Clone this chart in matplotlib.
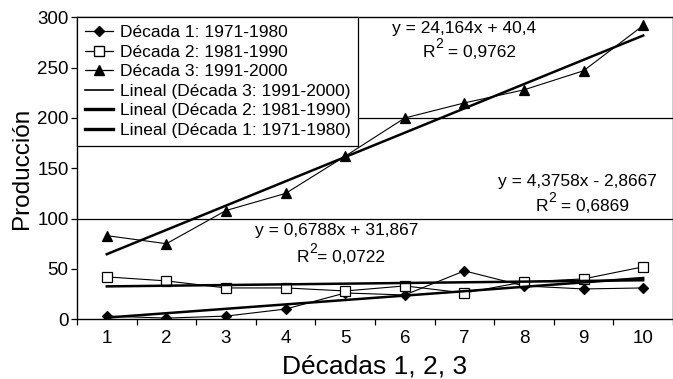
import numpy as np
import matplotlib
matplotlib.use("Agg")
import matplotlib.pyplot as plt
from matplotlib.lines import Line2D
from matplotlib.transforms import offset_copy

plt.rcParams['font.family'] = ['Liberation Sans', 'DejaVu Sans']

# datos
x = np.arange(1, 11)
decada1 = [3, 1, 3, 10, 26, 24, 48, 33, 30, 31]
decada2 = [42, 38, 31, 31, 28, 33, 26, 37, 40, 52]
decada3 = [83, 75, 108, 125, 162, 200, 215, 228, 247, 292]

nombres = ["Década 1: 1971-1980", "Década 2: 1981-1990", "Década 3: 1991-2000"]
# pendiente, ordenada (de las etiquetas de tendencia)
pendientes = [4.3758, 0.6788, 24.164]
ordenadas = [-2.8667, 31.867, 40.4]
ecuaciones = ["y = 4,3758x - 2,8667", "y = 0,6788x + 31,867", "y = 24,164x + 40,4"]
r2 = [" = 0,6869", "= 0,0722", " = 0,9762"]

fig = plt.figure(figsize=(6.73, 3.79), dpi=100)
ax = fig.add_axes([0.1144, 0.158, 0.8856, 0.796])

for yv in [100, 200]:
    ax.axhline(yv, color='black', lw=0.9, zorder=1)

marcadores = ['D', 's', '^']
caras = ['black', 'white', 'black']
tamanos = [5.5, 7.5, 7]
series = [decada1, decada2, decada3]
for ys, m, fc, ms in zip(series, marcadores, caras, tamanos):
    ax.plot(x, ys, color='black', lw=0.8, marker=m, ms=ms, mfc=fc, mec='black',
            mew=0.9, zorder=3)

for a, b in zip(pendientes, ordenadas):
    ax.plot(x, a * x + b, color='black', lw=1.8, zorder=4)

fs = 12.5
renderer = fig.canvas.get_renderer()


def texto_r2(xc, yc, resto):
    # "R" + superíndice "2" + resto, centrado en (xc, yc)
    partes = [("R", fs, 0), ("2", fs * 0.8, 6), (resto, fs, 0)]
    objs = []
    for s, size, dy in partes:
        t = ax.text(xc, yc, s, fontsize=size, ha='left', va='center')
        objs.append((t, dy))
    anchos = [t.get_window_extent(renderer).width for t, _ in objs]
    total = sum(anchos)
    dx = -total / 2
    for (t, dy), w in zip(objs, anchos):
        t.set_transform(offset_copy(ax.transData, fig=fig, x=dx * 72 / fig.dpi,
                                    y=dy, units='points'))
        dx += w


# etiquetas de las tendencias
ax.text(7.0, 289, ecuaciones[2], ha='center', va='center', fontsize=fs)
texto_r2(7.08, 265, r2[2])
ax.text(8.9, 137, ecuaciones[0], ha='center', va='center', fontsize=fs)
texto_r2(8.98, 112, r2[0])
ax.text(4.86, 88, ecuaciones[1], ha='center', va='center', fontsize=fs)
texto_r2(4.93, 61, r2[1])

ax.set_xlim(0.5, 10.5)
ax.set_ylim(0, 300)
ax.set_yticks(np.arange(0, 301, 50))
ax.set_xticks(x)
ax.set_xticks(np.arange(0.5, 10.6, 1), minor=True)
ax.tick_params(axis='x', which='major', length=0, labelsize=13.5, pad=8)
ax.tick_params(axis='x', which='minor', length=4, width=0.9, direction='out')
ax.tick_params(axis='y', which='major', length=4, width=0.9, direction='out',
               labelsize=13.5, pad=2)
for s in ax.spines.values():
    s.set_linewidth(1.0)

ax.set_xlabel("Décadas 1, 2, 3", fontsize=19, labelpad=5)
ax.set_ylabel("Producción", fontsize=17.5, labelpad=3)

handles = [
    Line2D([], [], color='black', lw=0.9, marker='D', ms=5, mfc='black'),
    Line2D([], [], color='black', lw=0.9, marker='s', ms=6.5, mfc='white'),
    Line2D([], [], color='black', lw=0.9, marker='^', ms=6.5, mfc='black'),
    Line2D([], [], color='black', lw=1.2),
    Line2D([], [], color='black', lw=2.4),
    Line2D([], [], color='black', lw=2.4),
]
etiquetas = nombres + ["Lineal (Década 3: 1991-2000)",
                       "Lineal (Década 2: 1981-1990)",
                       "Lineal (Década 1: 1971-1980)"]
leg = ax.legend(handles, etiquetas, loc='upper left', bbox_to_anchor=(0, 1),
                borderaxespad=0, fontsize=12.5, frameon=True, fancybox=False,
                edgecolor='black', framealpha=1, labelspacing=0.25,
                handlelength=1.6, handletextpad=0.4, borderpad=0.45)
leg.get_frame().set_linewidth(0.9)
leg.set_zorder(5)

fig.savefig("out.png", dpi=100)
